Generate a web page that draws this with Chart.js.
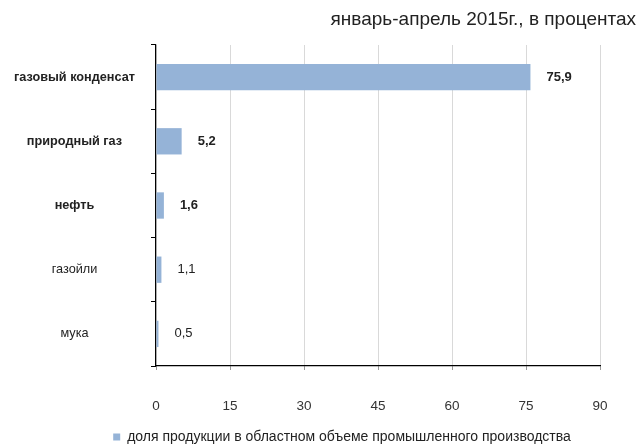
<!DOCTYPE html>
<html>
<head>
<meta charset="utf-8">
<script src="https://cdn.jsdelivr.net/npm/chart.js@4"></script>
<style>
  body { margin: 0; background: #fff; }
  #wrap { width: 642px; height: 447px; }
</style>
</head>
<body>
<div id="wrap"><canvas id="chart" width="642" height="447"></canvas></div>
<script>
const categories = ["газовый конденсат", "природный газ", "нефть", "газойли", "мука"];
const shares = [75.9, 5.2, 1.6, 1.1, 0.5];
const boldRows = [true, true, true, false, false];
const xTicks = [0, 15, 30, 45, 60, 75, 90];
const seriesLabel = "доля продукции в областном объеме промышленного производства";
const titleText = "январь-апрель 2015г., в процентах";

const FONT = "'Liberation Sans', Arial, sans-serif";

// values written to the right of each bar
const valueLabels = {
    id: "valueLabels",
    afterDatasetsDraw(chart) {
        const ctx = chart.ctx;
        const meta = chart.getDatasetMeta(0);
        ctx.save();
        ctx.fillStyle = "#222";
        ctx.textBaseline = "middle";
        meta.data.forEach((bar, i) => {
            ctx.font = (boldRows[i] ? "bold " : "") + "13px " + FONT;
            ctx.fillText(String(shares[i]).replace(".", ","), bar.x + 16, bar.y);
        });
        ctx.restore();
    }
};

// title sits further right than the plot area, so draw it by hand
const cornerTitle = {
    id: "cornerTitle",
    afterDraw(chart) {
        const ctx = chart.ctx;
        ctx.save();
        ctx.fillStyle = "#222";
        ctx.font = "19px " + FONT;
        ctx.textAlign = "right";
        ctx.textBaseline = "middle";
        ctx.fillText(titleText, 636, 20);
        ctx.restore();
    }
};

// nudge the legend a bit right and down
const legendShift = {
    id: "legendShift",
    afterLayout(chart) {
        const lg = chart.legend;
        lg.left += 42; lg.right += 42;
        lg.top += 7; lg.bottom += 7;
    }
};

const ctx = document.getElementById("chart");
new Chart(ctx, {
    type: "bar",
    data: {
        labels: categories,
        datasets: [{
            label: seriesLabel,
            data: shares,
            backgroundColor: "#95B3D7",
            borderWidth: 0,
            categoryPercentage: 1,
            barPercentage: 0.41
        }]
    },
    options: {
        indexAxis: "y",
        responsive: false,
        animation: false,
        layout: { padding: { left: 0, right: 42, top: 45, bottom: 0 } },
        plugins: {
            legend: {
                position: "bottom",
                labels: {
                    boxWidth: 7,
                    boxHeight: 7,
                    padding: 3,
                    color: "#222",
                    font: { family: FONT, size: 14 }
                }
            },
            tooltip: { enabled: false }
        },
        scales: {
            x: {
                min: 0,
                max: 90,
                afterBuildTicks: (s) => { s.ticks = xTicks.map(v => ({ value: v })); },
                afterFit: (s) => { s.height = 54; },
                border: { color: "#000", width: 1.2 },
                grid: { color: "#d9d9d9", tickColor: "#999", tickLength: 4 },
                ticks: {
                    color: "#333",
                    padding: 28,
                    font: { family: FONT, size: 13.5 }
                }
            },
            y: {
                afterFit: (s) => { s.width = 156; },
                border: { color: "#000", width: 1.2 },
                grid: { drawOnChartArea: false, tickColor: "#000", tickLength: 5 },
                ticks: {
                    color: "#222",
                    crossAlign: "center",
                    padding: 16,
                    font: (c) => ({ family: FONT, size: 12.7, weight: boldRows[c.index] ? "bold" : "normal" })
                }
            }
        }
    },
    plugins: [valueLabels, cornerTitle, legendShift]
});
</script>
</body>
</html>
